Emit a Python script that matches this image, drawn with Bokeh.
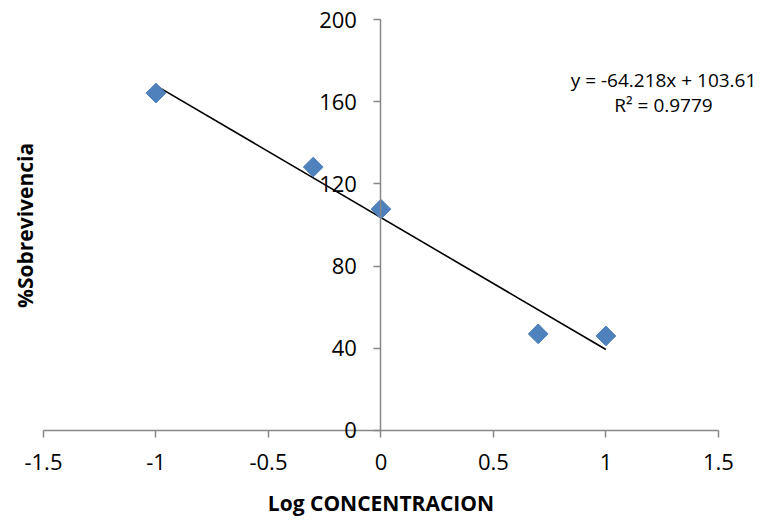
import numpy as np
from bokeh.plotting import figure
from bokeh.models import FixedTicker, NumeralTickFormatter, Label, Range1d
from bokeh.embed import file_html
from bokeh.resources import INLINE

# ---- data ----
log_conc = [-1.0, -0.301, 0.0, 0.699, 1.0]
survival = [164.2, 128.2, 107.7, 47.0, 46.0]
slope = -64.218
intercept = 103.61
r_squared = 0.9779
x_ticks = [-1.5, -1.0, -0.5, 0.0, 0.5, 1.0, 1.5]
y_ticks = [0, 40, 80, 120, 160, 200]
x_title = "Log CONCENTRACION"
y_title = "%Sobrevivencia"

FONT = "Open Sans"
AXIS_COLOR = "#878787"

# frame covers whole canvas; axes are drawn at x=0 / y=0 with bounds
p = figure(width=762, height=521, output_backend="svg", toolbar_location=None,
           x_range=Range1d(-1.691, 1.696), y_range=Range1d(-44.3, 209.25),
           min_border=0, min_border_left=0, min_border_right=0,
           min_border_top=0, min_border_bottom=0)
p.outline_line_color = None
p.xgrid.visible = False
p.ygrid.visible = False
p.background_fill_color = "white"

# x axis at y = 0
xa = p.xaxis[0]
xa.fixed_location = 0
xa.bounds = (x_ticks[0], x_ticks[-1])
xa.ticker = FixedTicker(ticks=x_ticks)
xa.formatter = NumeralTickFormatter(format="0.[0]")
xa.minor_tick_line_color = None
xa.major_tick_in = 0
xa.major_tick_out = 7
xa.axis_line_color = AXIS_COLOR
xa.axis_line_width = 1.5
xa.major_tick_line_color = AXIS_COLOR
xa.major_tick_line_width = 1.5
xa.major_label_text_font = FONT
xa.major_label_text_font_size = "22px"
xa.major_label_text_color = "black"
xa.major_label_standoff = 17

# y axis crossing at x = 0
ya = p.yaxis[0]
ya.fixed_location = 0
ya.bounds = (y_ticks[0], y_ticks[-1])
ya.ticker = FixedTicker(ticks=y_ticks)
ya.formatter = NumeralTickFormatter(format="0")
ya.minor_tick_line_color = None
ya.major_tick_in = 0
ya.major_tick_out = 7
ya.axis_line_color = AXIS_COLOR
ya.axis_line_width = 1.5
ya.major_tick_line_color = AXIS_COLOR
ya.major_tick_line_width = 1.5
ya.major_label_text_font = FONT
ya.major_label_text_font_size = "22px"
ya.major_label_text_color = "black"
ya.major_label_standoff = 17

# axis titles
p.add_layout(Label(x=0, y=-35.5, text=x_title, text_align="center", text_baseline="middle",
                   text_font=FONT, text_font_size="21px", text_font_style="bold",
                   text_color="black"))
p.add_layout(Label(x=-1.58, y=99.8, text=y_title, angle=np.pi / 2,
                   text_align="center", text_baseline="middle",
                   text_font=FONT, text_font_size="21px", text_font_style="bold",
                   text_color="black"))

# trendline from coefficients over data range
xmin, xmax = min(log_conc), max(log_conc)
trend_x = [xmin, xmax]
trend_y = [slope * v + intercept for v in trend_x]
p.line(trend_x, trend_y, line_color="black", line_width=1.6)

# points (diamonds)
p.scatter(log_conc, survival, marker="square", size=14, angle=np.pi / 4,
          fill_color="#4F81BD", line_color="#4F81BD")

# equation text
eq1 = "y = %.3fx + %.2f" % (slope, intercept)
eq2 = "R² = %.4f" % r_squared
p.add_layout(Label(x=1.256, y=170.8, text=eq1, text_align="center", text_baseline="middle",
                   text_font=FONT, text_font_size="19px", text_color="black"))
p.add_layout(Label(x=1.256, y=158.2, text=eq2, text_align="center", text_baseline="middle",
                   text_font=FONT, text_font_size="19px", text_color="black"))

open("out.html", "w").write(file_html(p, INLINE))
